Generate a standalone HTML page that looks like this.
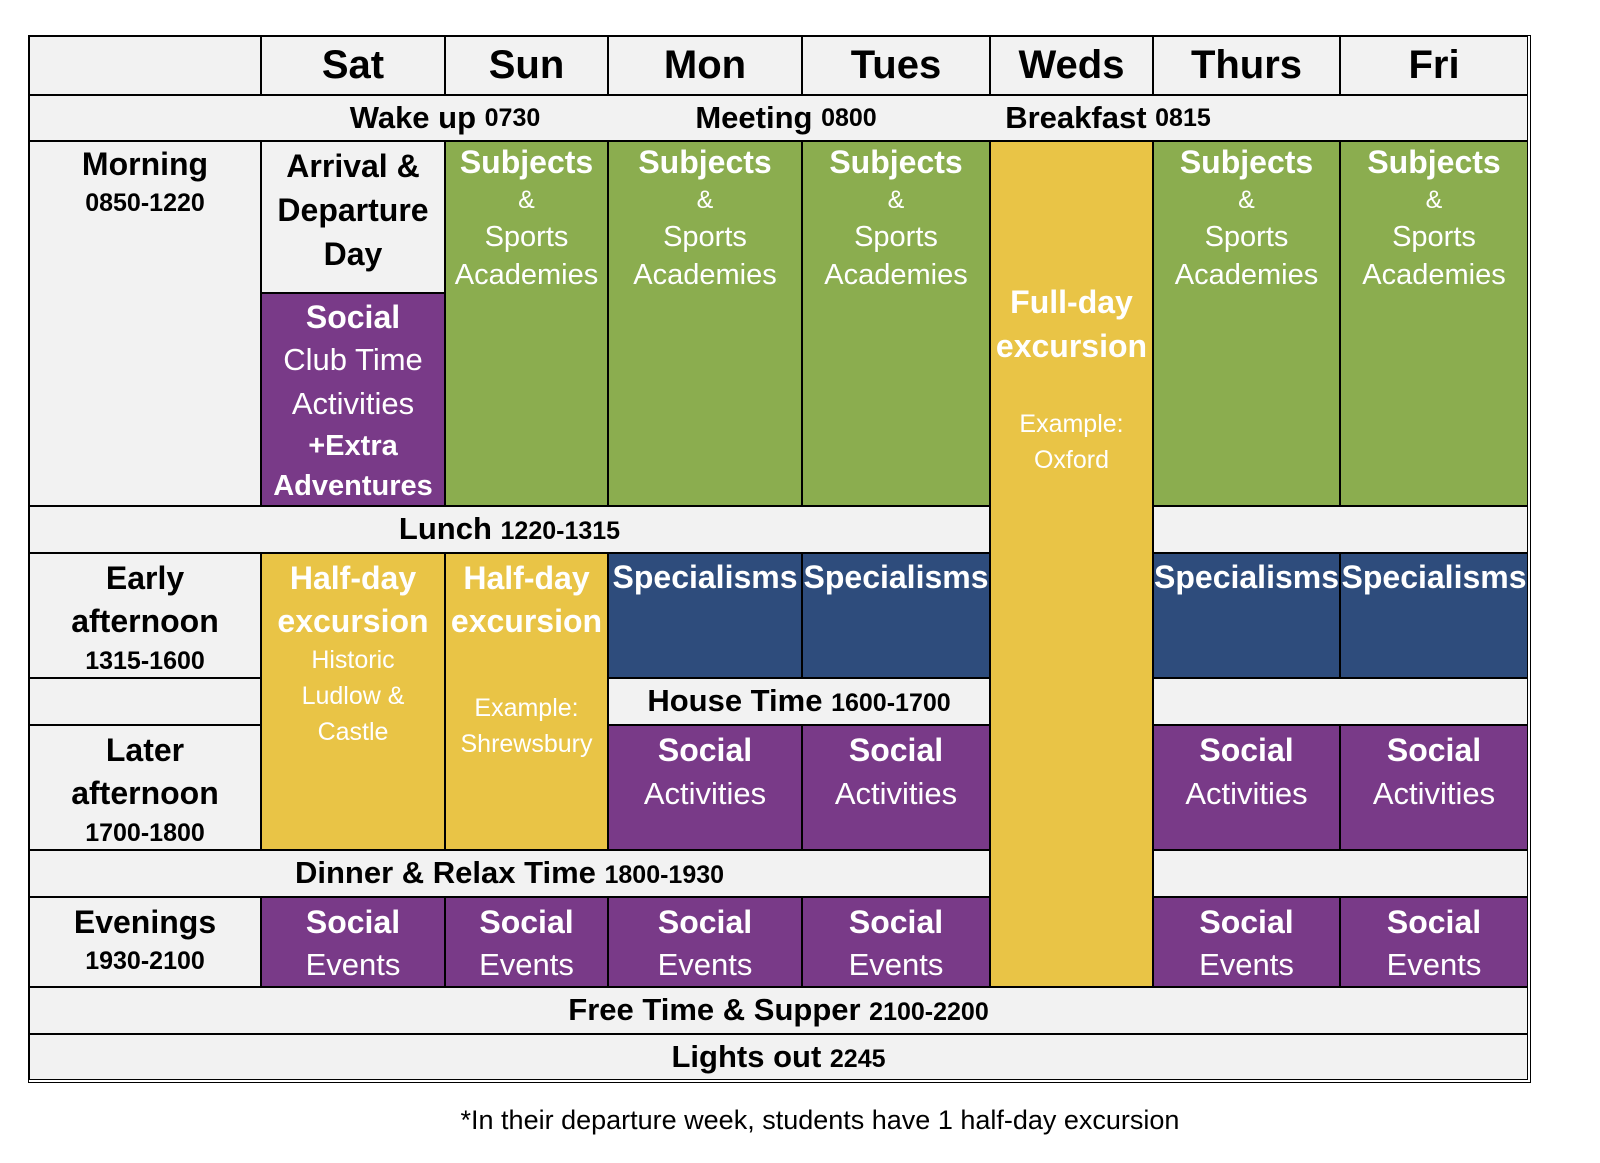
<!DOCTYPE html>
<html><head><meta charset="utf-8">
<style>
body{margin:0;width:1600px;height:1163px;background:#fff;position:relative;font-family:"Liberation Sans Narrow","Liberation Sans",sans-serif;overflow:hidden}
.c{position:absolute;box-sizing:border-box;border:1.5px solid #000;text-align:center;background:#f2f2f2;color:#000}
.g{background:#8bad4f;color:#fff}.p{background:#793a88;color:#fff}.n{background:#2e4c7c;color:#fff}.y{background:#e9c446;color:#fff}
.b{font-weight:bold}
.l{display:block;white-space:nowrap}
.h{font-size:40px;font-weight:bold;line-height:56px}
.r{font-size:31px;font-weight:bold;line-height:44px}
.r small{font-size:25px}
.t1{font-size:32px;font-weight:bold;line-height:40px}
.t2{font-size:29px;line-height:38px}
.t3{font-size:25px;line-height:36px}
#outer{position:absolute;left:28px;top:35px;width:1501px;height:1046px;border:1.5px solid #000;pointer-events:none}
</style></head><body>
<div id="outer"></div>
<!-- header -->
<div class="c" style="left:29px;top:36px;width:232px;height:59px"></div>
<div class="c h" style="left:261px;top:36px;width:184px;height:59px">Sat</div>
<div class="c h" style="left:445px;top:36px;width:163px;height:59px">Sun</div>
<div class="c h" style="left:608px;top:36px;width:194px;height:59px">Mon</div>
<div class="c h" style="left:802px;top:36px;width:188px;height:59px">Tues</div>
<div class="c h" style="left:990px;top:36px;width:163px;height:59px">Weds</div>
<div class="c h" style="left:1153px;top:36px;width:187px;height:59px">Thurs</div>
<div class="c h" style="left:1340px;top:36px;width:188px;height:59px">Fri</div>
<!-- wake row -->
<div class="c r" style="left:29px;top:95px;width:1499px;height:46px">
<span style="position:absolute;left:415px;width:0;display:flex;justify-content:center;white-space:nowrap">Wake up&nbsp;<small>0730</small></span>
<span style="position:absolute;left:756px;width:0;display:flex;justify-content:center;white-space:nowrap">Meeting&nbsp;<small>0800</small></span>
<span style="position:absolute;left:1078px;width:0;display:flex;justify-content:center;white-space:nowrap">Breakfast&nbsp;<small>0815</small></span>
</div>
<!-- morning -->
<div class="c" style="left:29px;top:141px;width:232px;height:365px;padding-top:2px"><span class="l t1">Morning</span><span class="l b" style="font-size:25px;line-height:38px">0850-1220</span></div>
<div class="c" style="left:261px;top:141px;width:184px;height:152px;padding-top:2px"><span class="l t1" style="line-height:44px">Arrival &amp;</span><span class="l t1" style="line-height:44px">Departure</span><span class="l t1" style="line-height:44px">Day</span></div>
<div class="c p" style="left:261px;top:293px;width:184px;height:213px;padding-top:2px"><span class="l t1" style="line-height:42px">Social</span><span class="l t2" style="line-height:44px;font-size:31px">Club Time</span><span class="l t2" style="line-height:44px;font-size:31px">Activities</span><span class="l t1" style="line-height:40px;font-size:29px">+Extra</span><span class="l t1" style="line-height:40px;font-size:29px">Adventures</span></div>
<div class="c g" style="left:445px;top:141px;width:163px;height:365px"><span class="l t1">Subjects</span><span class="l t3">&amp;</span><span class="l t2">Sports</span><span class="l t2">Academies</span></div>
<div class="c g" style="left:608px;top:141px;width:194px;height:365px"><span class="l t1">Subjects</span><span class="l t3">&amp;</span><span class="l t2">Sports</span><span class="l t2">Academies</span></div>
<div class="c g" style="left:802px;top:141px;width:188px;height:365px"><span class="l t1">Subjects</span><span class="l t3">&amp;</span><span class="l t2">Sports</span><span class="l t2">Academies</span></div>
<div class="c y" style="left:990px;top:141px;width:163px;height:846px;padding-top:138px"><span class="l t1" style="line-height:44px">Full-day</span><span class="l t1" style="line-height:44px">excursion</span><span class="l t3" style="margin-top:38px">Example:</span><span class="l t3">Oxford</span></div>
<div class="c g" style="left:1153px;top:141px;width:187px;height:365px"><span class="l t1">Subjects</span><span class="l t3">&amp;</span><span class="l t2">Sports</span><span class="l t2">Academies</span></div>
<div class="c g" style="left:1340px;top:141px;width:188px;height:365px"><span class="l t1">Subjects</span><span class="l t3">&amp;</span><span class="l t2">Sports</span><span class="l t2">Academies</span></div>
<!-- lunch -->
<div class="c r" style="left:29px;top:506px;width:961px;height:47px">Lunch <small>1220-1315</small></div>
<div class="c" style="left:1153px;top:506px;width:375px;height:47px"></div>
<!-- early afternoon -->
<div class="c" style="left:29px;top:553px;width:232px;height:125px;padding-top:2px"><span class="l t1" style="line-height:44px">Early</span><span class="l t1" style="line-height:42px">afternoon</span><span class="l b" style="font-size:25px;line-height:38px">1315-1600</span></div>
<div class="c y" style="left:261px;top:553px;width:184px;height:297px;padding-top:2px"><span class="l t1" style="line-height:44px">Half-day</span><span class="l t1" style="line-height:42px">excursion</span><span class="l t3">Historic</span><span class="l t3">Ludlow &amp;</span><span class="l t3">Castle</span></div>
<div class="c y" style="left:445px;top:553px;width:163px;height:297px;padding-top:2px"><span class="l t1" style="line-height:44px">Half-day</span><span class="l t1" style="line-height:42px">excursion</span><span class="l t3" style="margin-top:48px">Example:</span><span class="l t3">Shrewsbury</span></div>
<div class="c n" style="left:608px;top:553px;width:194px;height:125px"><span class="l t1" style="line-height:46px">Specialisms</span></div>
<div class="c n" style="left:802px;top:553px;width:188px;height:125px"><span class="l t1" style="line-height:46px">Specialisms</span></div>
<div class="c n" style="left:1153px;top:553px;width:187px;height:125px"><span class="l t1" style="line-height:46px">Specialisms</span></div>
<div class="c n" style="left:1340px;top:553px;width:188px;height:125px"><span class="l t1" style="line-height:46px">Specialisms</span></div>
<!-- house time -->
<div class="c" style="left:29px;top:678px;width:232px;height:47px"></div>
<div class="c r" style="left:608px;top:678px;width:382px;height:47px">House Time <small>1600-1700</small></div>
<div class="c" style="left:1153px;top:678px;width:375px;height:47px"></div>
<!-- later afternoon -->
<div class="c" style="left:29px;top:725px;width:232px;height:125px;padding-top:2px"><span class="l t1" style="line-height:44px">Later</span><span class="l t1" style="line-height:42px">afternoon</span><span class="l b" style="font-size:25px;line-height:38px">1700-1800</span></div>
<div class="c p" style="left:608px;top:725px;width:194px;height:125px;padding-top:2px"><span class="l t1" style="line-height:44px">Social</span><span class="l t2" style="line-height:44px;font-size:31px">Activities</span></div>
<div class="c p" style="left:802px;top:725px;width:188px;height:125px;padding-top:2px"><span class="l t1" style="line-height:44px">Social</span><span class="l t2" style="line-height:44px;font-size:31px">Activities</span></div>
<div class="c p" style="left:1153px;top:725px;width:187px;height:125px;padding-top:2px"><span class="l t1" style="line-height:44px">Social</span><span class="l t2" style="line-height:44px;font-size:31px">Activities</span></div>
<div class="c p" style="left:1340px;top:725px;width:188px;height:125px;padding-top:2px"><span class="l t1" style="line-height:44px">Social</span><span class="l t2" style="line-height:44px;font-size:31px">Activities</span></div>
<!-- dinner -->
<div class="c r" style="left:29px;top:850px;width:961px;height:47px">Dinner &amp; Relax Time <small>1800-1930</small></div>
<div class="c" style="left:1153px;top:850px;width:375px;height:47px"></div>
<!-- evenings -->
<div class="c" style="left:29px;top:897px;width:232px;height:90px;padding-top:2px"><span class="l t1" style="line-height:44px">Evenings</span><span class="l b" style="font-size:25px;line-height:34px">1930-2100</span></div>
<div class="c p" style="left:261px;top:897px;width:184px;height:90px;padding-top:2px"><span class="l t1" style="line-height:44px">Social</span><span class="l t2" style="line-height:42px;font-size:31px">Events</span></div>
<div class="c p" style="left:445px;top:897px;width:163px;height:90px;padding-top:2px"><span class="l t1" style="line-height:44px">Social</span><span class="l t2" style="line-height:42px;font-size:31px">Events</span></div>
<div class="c p" style="left:608px;top:897px;width:194px;height:90px;padding-top:2px"><span class="l t1" style="line-height:44px">Social</span><span class="l t2" style="line-height:42px;font-size:31px">Events</span></div>
<div class="c p" style="left:802px;top:897px;width:188px;height:90px;padding-top:2px"><span class="l t1" style="line-height:44px">Social</span><span class="l t2" style="line-height:42px;font-size:31px">Events</span></div>
<div class="c p" style="left:1153px;top:897px;width:187px;height:90px;padding-top:2px"><span class="l t1" style="line-height:44px">Social</span><span class="l t2" style="line-height:42px;font-size:31px">Events</span></div>
<div class="c p" style="left:1340px;top:897px;width:188px;height:90px;padding-top:2px"><span class="l t1" style="line-height:44px">Social</span><span class="l t2" style="line-height:42px;font-size:31px">Events</span></div>
<!-- free / lights -->
<div class="c r" style="left:29px;top:987px;width:1499px;height:47px">Free Time &amp; Supper <small>2100-2200</small></div>
<div class="c r" style="left:29px;top:1034px;width:1499px;height:46px">Lights out <small>2245</small></div>
<div style="position:absolute;left:0;width:1600px;top:1102px;text-align:center;font-size:27px;line-height:36px;padding-left:40px;box-sizing:border-box">*In their departure week, students have 1 half-day excursion</div>
</body></html>
